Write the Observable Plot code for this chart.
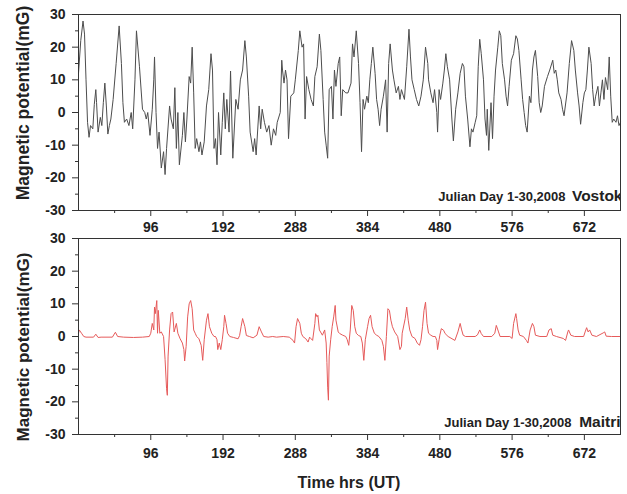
<!DOCTYPE html>
<html>
<head>
<meta charset="utf-8">
<script src="https://cdn.jsdelivr.net/npm/d3@7"></script>
<script src="https://cdn.jsdelivr.net/npm/@observablehq/plot@0.6"></script>
<style>
  html, body { margin: 0; padding: 0; background: #fff; }
  #wrap { position: relative; width: 627px; height: 494px; overflow: hidden; background: #fff; }
  #wrap > svg, #wrap > figure { position: absolute; left: 0; margin: 0; }
  .ttl { font-family: "Liberation Sans", Arial, sans-serif; font-weight: bold; fill: #222; }
</style>
</head>
<body>
<div id="wrap"></div>
<script>
// ---------- data ----------
const xTicks = [96, 192, 288, 384, 480, 576, 672];
const xMinorTicks = [48, 144, 240, 336, 432, 528, 624];
const yTicks = [-30, -20, -10, 0, 10, 20, 30];
const yMinorTicks = [-25, -15, -5, 5, 15, 25];

const yTitle = "Magnetic potential(mG)";
const xTitle = "Time hrs (UT)";
const periodLabel = "Julian Day 1-30,2008";
const stationNames = ["Vostok", "Maitri"];

// Vostok (hours, mG)
const vostokHours = [0,3,6,8,10,12,14,16,19,21,23,24,26,29,31,33,35,37,39,41,43,46,50,54,57,59,61,64,67,70,72,75,77,81,85,88,90,92,95,98,100,101,103,105,107,110,113,115,117,121,123,126,128,130,132,134,138,140,142,144,147,149,151,153,155,157,160,162,164,167,170,173,176,178,180,182,184,186,189,191,193,195,197,200,202,205,209,212,215,218,221,223,226,228,232,234,236,240,242,244,247,250,253,256,259,262,264,268,270,271,273,275,277,279,282,286,288,292,294,297,299,301,303,306,309,312,314,317,320,322,325,327,329,331,333,336,338,340,342,345,347,349,351,355,358,362,364,366,369,372,374,376,378,380,383,385,387,389,391,394,396,398,400,402,405,408,410,412,414,417,419,422,425,427,429,433,436,439,441,443,446,449,452,455,458,461,464,465,468,471,473,476,477,479,481,484,486,488,490,493,496,498,501,504,507,510,512,514,517,520,522,524,527,529,531,533,535,538,540,542,543,545,548,550,552,554,557,559,561,563,566,568,570,572,575,578,581,583,585,588,590,592,594,596,599,601,603,605,607,610,612,614,616,619,623,626,630,632,634,636,638,641,643,645,649,652,655,658,660,663,665,667,670,672,674,676,678,681,683,685,687,690,692,694,696,698,700,703,705,707,709,711,714,716,718,720];
const vostokValues = [12,22,28,24,10,-3,-7.6,-4,-5,2.5,7,3,-6,-1.5,-4,3,9,2,-6.6,-4,-2,4,15,26.5,15,3,-3,-2,-4,0,-5,10,25,14,1,0,-2,0,-7,1,10,17,0,-11,-6,-17,-12,-19,-11,2,-2,-5,7.6,-11,0,-16,-7,0,-9,-2,11,9,20,6,-11,-8,-12,-9,-13,-9,2,7,18,13,-11,-8,-16,0,-13,-3,6,-5,4,-6,12.7,-14,4,1,10,13,22,17,5,-6,-12,-8,-13,2,-5,1,-3,-6,-4,-10,-5,-7,-3,0,16,13,9,13,10,-8,5,6,10,19,25,20,21,-2,11,7,4,2,11,14,24,19,4,-6,-10,-14,7,8,-2,13,8,15,17,-1,7,6,6,9,21,17,25,15,3,-12,4,1,5,3,10,15,20,12,4,1,-4,1,5,10,-6,15,21,13,10,6,8,4,7,4,14,25.5,17,10,7,4,2,5,10,20,15,10,6,3,7,0,-6,7,4,9,13,18,14,10,-2,-8.7,1,6,12,15,14,5,-2,-10.5,-5,-6,-3,-1,14,22.4,18,10,-2,-7,1,-11.6,3,-8,5,13,20,25,23.5,15,10,5,2,8,16,18,23.5,22.5,19,10,4,0,-4,-6,5,3,13,17,19,11,3,0,2,8,11,13,16,12,13,10,6,4,1,-1,6,15,22,19,13,6,2,-3.6,3,6,7,13,20,15,7,2,5,8,2,6,10,4,10.7,7,17,5,-3,-2,-3,-1,-4,-3];

// Maitri (hours, mG)
const maitriHours = [0,1,4,7,10,20,23,26,30,45,49,52,60,73,85,94,96,98,100,101,102,104,105,106,108,110,113,115,117,118,119,121,123,125,127,130,132,135,138,140,141,143,145,147,149,151,153,155,157,160,163,165,167,170,172,174,177,180,182,184,185,187,189,191,193,194,196,198,201,206,212,214,216,218,221,223,227,232,237,240,243,246,252,258,263,272,280,285,287,289,291,294,296,298,302,305,307,309,311,314,315,317,318,320,324,327,329,330,331,332,333,335,337,339,341,342,345,347,351,355,357,359,361,363,365,367,369,372,375,377,379,381,384,386,388,390,393,396,399,403,405,407,409,411,413,415,417,420,424,427,429,430,434,436,438,440,443,447,450,453,455,457,459,461,463,465,468,471,474,476,477,479,480,482,485,487,491,500,504,507,509,511,514,527,530,533,535,538,549,553,555,558,560,573,576,578,581,582,584,586,591,595,597,600,603,605,607,613,622,625,628,630,635,644,647,650,651,654,659,671,673,675,677,679,682,688,697,699,701,708,720];
const maitriValues = [1,2,1,0,-0.2,-0.2,0.7,-0.3,-0.2,-0.2,1.3,0,-0.2,-0.3,-0.2,0,1,4,2,9,7,11,1,8,1,1.4,0,-7,-16,-18,-6,2,7,7.5,1.4,4,1,-0.7,-2,-4,-7.5,-3,6,10,11,8.5,2,1,0,-0.7,-2.7,-7.3,-1,5,7,3,1,0,0,-1,-4,-2,-4,-1,3,6.5,4,1,0,-0.3,-0.7,0.3,3,5.5,3,0.3,0,-0.4,0.4,3,1.4,0,-0.2,0,-0.2,0,-0.2,-1.2,-2,3,5.5,4,1,0,-0.7,-1.7,-0.2,-0.7,-1.2,4,7,6,6.5,2,0.4,2,-2,-8,-15.5,-19.5,-6,-1,3,6,9.5,5,1.4,0.9,0.4,0,-1,-2.7,2,9.5,8,3,1,0.3,0,-2,-7.3,-1,3,5.5,6.5,3,1,0.4,0,-1.2,-3,-7.3,0,8.5,8,5,3,1.4,0,-4,-3,1,5.5,9,5,2,0,-0.6,-2,-2.7,-1,3,8,10.5,4,1,0.4,0,0,-1.2,-4,-1,0.4,2.4,1.9,0.9,0,-1.2,1.4,4,2,0.4,0,0,0.5,2,0.9,0,0,1,3.4,1.4,0,0,-0.6,4,7,5.5,2,0.4,0,-1.2,-2,2,4,3,0.4,0,0,2,2.4,0.4,0,-0.6,-1.2,1.4,2,0.4,0,0,1.4,2.7,1.4,2,0.4,0,1.1,1.4,0.1,0,0];

// ---------- drawing ----------
const vostok = vostokHours.map((h, i) => ({h, v: vostokValues[i]}));
const maitri = maitriHours.map((h, i) => ({h, v: maitriValues[i]}));

const FONT = "'Liberation Sans', Arial, sans-serif";

function panel(data, color, station, height, marginBottom, labelDy) {
  const isV = station === "Vostok";
  return Plot.plot({
    width: 627,
    height,
    marginLeft: 78,
    marginRight: 7,
    marginTop: 14,
    marginBottom,
    x: {domain: [0, 720]},
    y: {domain: [-30, 30]},
    style: {fontFamily: FONT, fontSize: "14px", fontWeight: "bold", color: "#222", background: "transparent", overflow: "visible"},
    marks: [
      Plot.axisX(xMinorTicks, {tickSize: 3, tickFormat: () => "", label: null, stroke: "#333"}),
      Plot.axisX(xTicks, {tickSize: 6, tickPadding: labelDy, label: null, stroke: "#333", tickFormat: d => String(d)}),
      Plot.axisY(yMinorTicks, {tickSize: 3, tickFormat: () => "", label: null, stroke: "#333"}),
      Plot.axisY(yTicks, {tickSize: 6, tickPadding: 7, label: null, stroke: "#333", tickFormat: d => String(d)}),
      Plot.line(data, {x: "h", y: "v", stroke: color, strokeWidth: 1}),
      Plot.text([periodLabel], {frameAnchor: "bottom-right", dx: isV ? -55 : -49, dy: isV ? -10 : -8, textAnchor: "end", lineAnchor: "bottom", fontSize: 13, fontWeight: "bold", fill: "#222"}),
      Plot.text([station], {frameAnchor: "bottom-right", dx: isV ? 2 : 0, dy: isV ? -10 : -8, textAnchor: "end", lineAnchor: "bottom", fontSize: 15.5, fontWeight: "bold", fill: "#222", clip: true}),
      Plot.frame({stroke: "#333", strokeWidth: 1})
    ]
  });
}

const wrap = document.getElementById("wrap");
const topPanel = panel(vostok, "#4d4d4d", stationNames[0], 236, 26, 6);
topPanel.style.top = "0px";
wrap.appendChild(topPanel);
const bottomPanel = panel(maitri, "#e65a5a", stationNames[1], 240, 30, 8);
bottomPanel.style.top = "224px";
wrap.appendChild(bottomPanel);

// titles
const ns = "http://www.w3.org/2000/svg";
const over = document.createElementNS(ns, "svg");
over.setAttribute("width", 627);
over.setAttribute("height", 494);
over.style.top = "0px";
over.style.pointerEvents = "none";
function addText(str, x, y, size, rot) {
  const t = document.createElementNS(ns, "text");
  t.setAttribute("class", "ttl");
  t.setAttribute("x", x);
  t.setAttribute("y", y);
  t.setAttribute("font-size", size);
  t.setAttribute("text-anchor", "middle");
  if (rot) t.setAttribute("transform", `rotate(-90 ${x} ${y})`);
  t.textContent = str;
  over.appendChild(t);
}
addText(yTitle, 29, 103, 17.5, true);
addText(yTitle, 29, 347, 17, true);
addText(xTitle, 349, 488, 16, false);
wrap.appendChild(over);
</script>
</body>
</html>
